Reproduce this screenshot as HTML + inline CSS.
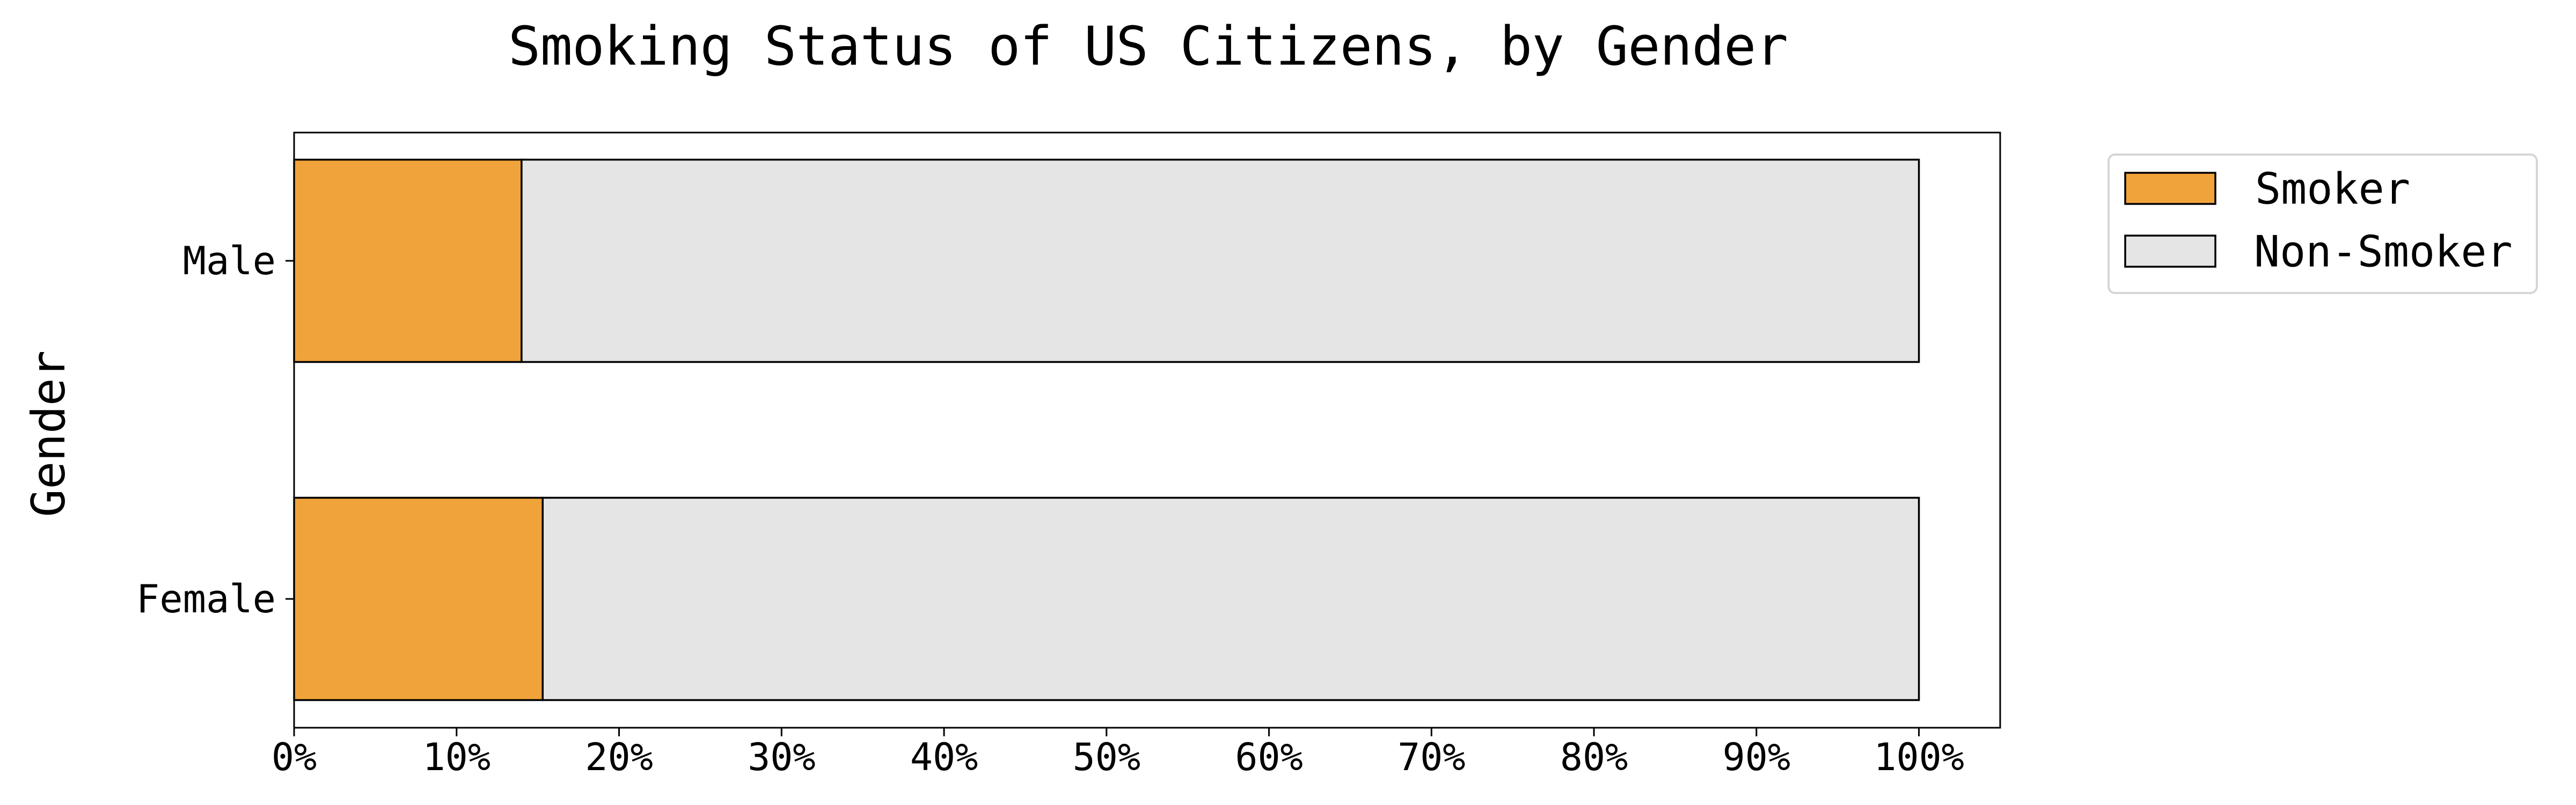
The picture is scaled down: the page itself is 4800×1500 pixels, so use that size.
<!DOCTYPE html>
<html><head><meta charset="utf-8"><style>
html,body{margin:0;padding:0;background:#fff;}
svg{display:block;font-family:"DejaVu Sans Mono","Liberation Mono",monospace;}
</style></head><body>
<svg id="chart" width="4800" height="1500" viewBox="0 0 4800 1500" xmlns="http://www.w3.org/2000/svg">
<rect width="4800" height="1500" fill="#fff"/>
<text x="947" y="86" font-size="100" textLength="2385" lengthAdjust="spacing" dominant-baseline="central">Smoking Status of US Citizens, by Gender</text>
<text transform="translate(91,808) rotate(-90)" font-size="86" text-anchor="middle" dominant-baseline="central">Gender</text>
<g id="bars"></g>
<g id="axes"></g>
<g>
<rect x="3929" y="288" width="798" height="258" rx="12" fill="#fff" stroke="#d6d6d6" stroke-width="4"/>
<rect x="3960" y="322" width="168" height="58" fill="#f0a33a" stroke="#000" stroke-width="3.5"/>
<text x="4202" y="352" font-size="80" dominant-baseline="central">Smoker</text>
<rect x="3960" y="439" width="168" height="58" fill="#e5e5e5" stroke="#000" stroke-width="3.5"/>
<text x="4200" y="469" font-size="80" dominant-baseline="central">Non-Smoker</text>
</g>
</svg>
<script>
const categories = ["Male", "Female"];
const smoker = [14.0, 15.3];
const nonSmoker = [86.0, 84.7];
const xTicks = [0, 10, 20, 30, 40, 50, 60, 70, 80, 90, 100];
const xTickLabels = ["0%", "10%", "20%", "30%", "40%", "50%", "60%", "70%", "80%", "90%", "100%"];

const NS = "http://www.w3.org/2000/svg";
const L = 548, R = 3727, T = 247, B = 1356;
const xMin = 0, xMax = 105;
function xs(v){ return L + (v - xMin) / (xMax - xMin) * (R - L); }
const yCenters = [486, 1116];
const barH = 377;
function ys(i){ return yCenters[i]; }
function mk(tag, attrs, parent){
  const e = document.createElementNS(NS, tag);
  for (const k in attrs) e.setAttribute(k, attrs[k]);
  parent.appendChild(e);
  return e;
}
const bars = document.getElementById('bars');
const axes = document.getElementById('axes');
categories.forEach((c, i) => {
  const y = ys(i) - barH / 2;
  const s = mk('rect', {x: xs(0), y: y, width: xs(smoker[i]) - xs(0), height: barH, fill: '#f0a33a', stroke: '#000', 'stroke-width': 3.5}, bars);
  
  
  const n = mk('rect', {x: xs(smoker[i]), y: y, width: xs(smoker[i] + nonSmoker[i]) - xs(smoker[i]), height: barH, fill: '#e5e5e5', stroke: '#000', 'stroke-width': 3.5}, bars);
  
  
  const tk = mk('line', {x1: L - 16, x2: L, y1: ys(i), y2: ys(i), stroke: '#000', 'stroke-width': 3}, axes);
  
  
  const lb = mk('text', {x: 514, y: ys(i), 'font-size': 72, 'text-anchor': 'end', 'dominant-baseline': 'central'}, axes);
  lb.textContent = c;
  
  
});
const frame = mk('rect', {x: L, y: T, width: R - L, height: B - T, fill: 'none', stroke: '#000', 'stroke-width': 3}, axes);


xTicks.forEach((v, i) => {
  const tk = mk('line', {x1: xs(v), x2: xs(v), y1: B, y2: B + 16, stroke: '#000', 'stroke-width': 3}, axes);
  
  
  const lb = mk('text', {x: xs(v), y: 1411, 'font-size': 70, 'text-anchor': 'middle', 'dominant-baseline': 'central'}, axes);
  lb.textContent = xTickLabels[i];
  
  
});
</script>
</body></html>
